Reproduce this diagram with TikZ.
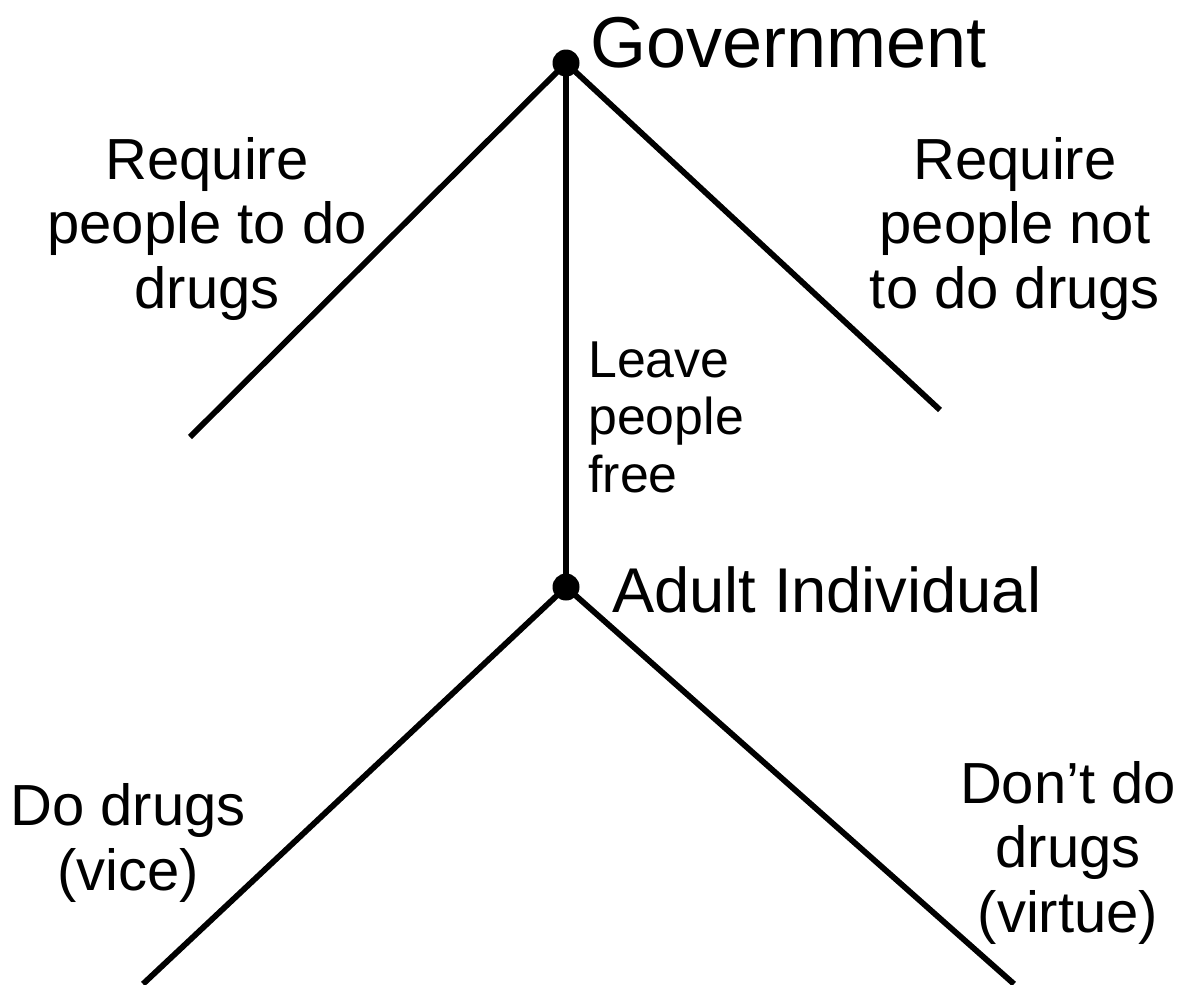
\documentclass[tikz,border=0pt]{standalone}
\usepackage{fontspec}
\setmainfont{Liberation Sans}
\begin{document}
\begin{tikzpicture}[x=0.02cm,y=-0.02cm,
  dot/.style={circle,fill=black,inner sep=0pt,minimum size=0.54cm},
  branch/.style={line width=3.3pt,line cap=butt},
  lbl/.style={inner sep=0pt,align=center,font=\fontsize{33}{36.5}\selectfont},
  small/.style={inner sep=0pt,align=left,font=\fontsize{29.5}{32.5}\selectfont}]
\useasboundingbox (0,0) rectangle (1179,984);
\coordinate (gl) at (190,437);
\coordinate (gr) at (940,410);
\coordinate (il) at (143,984);
\coordinate (ir) at (1014,984);
\node[dot] (gov) at (566,63) {};
\node[dot] (ind) at (566,587) {};
\draw[branch] (gov.center) -- (gl);
\draw[branch] (gov.center) -- (gr);
\draw[branch] (gov.center) -- (ind.center);
\draw[branch] (ind.center) -- (il);
\draw[branch] (ind.center) -- (ir);
\node[inner sep=0pt,anchor=base west,font=\fontsize{41}{45}\selectfont] (govt) at (590,67) {Government};
\node[inner sep=0pt,anchor=base west,font=\fontsize{36}{40}\selectfont] (indt) at (612,612) {Adult Individual};
\node[lbl,anchor=base] (req1) at (207,308) {Require\\people to do\\drugs};
\node[lbl,anchor=base] (req2) at (1015,308) {Require\\people not\\to do drugs};
\node[small,anchor=base west] (free) at (588,492) {Leave\\people\\free};
\node[lbl,anchor=base] (vice) at (128,890) {Do drugs\\(vice)};
\node[lbl,anchor=base] (virt) at (1068,932) {Don’t do\\drugs\\(virtue)};
\end{tikzpicture}
\end{document}
